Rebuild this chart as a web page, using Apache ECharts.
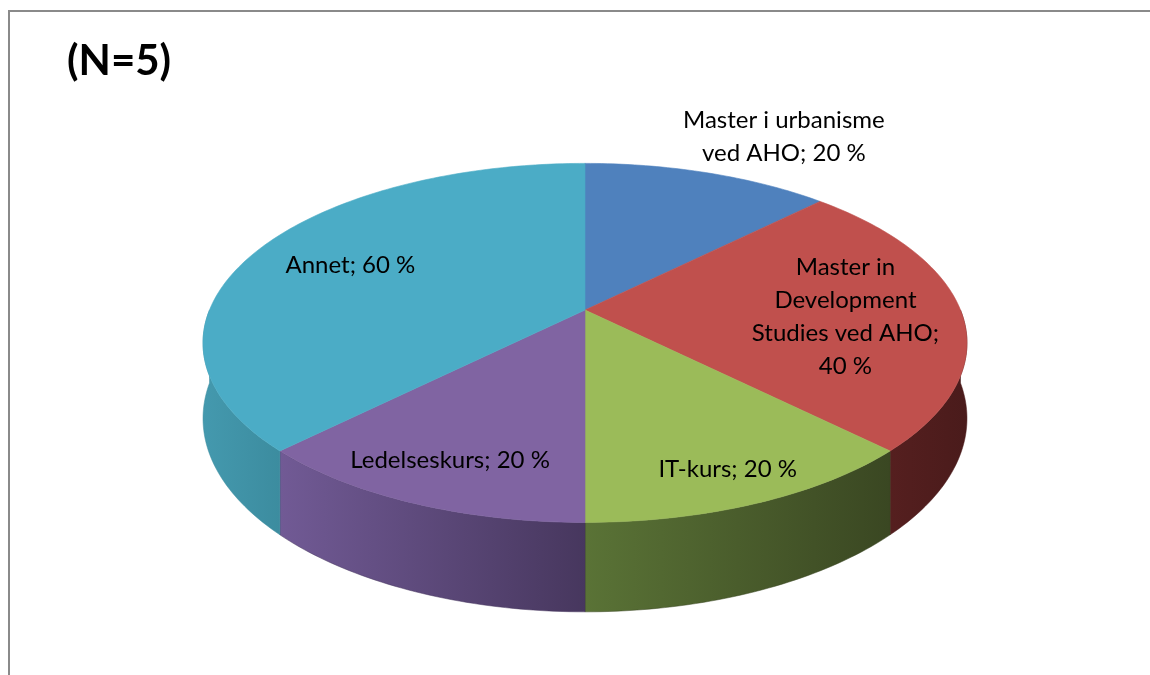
<!DOCTYPE html>
<html>
<head>
<meta charset="utf-8">
<script src="https://cdn.jsdelivr.net/npm/echarts@6/dist/echarts.min.js"></script>
<style>
html,body{margin:0;padding:0;background:#fff;}
#chart{width:1150px;height:675px;}
</style>
</head>
<body>
<div id="chart"></div>
<script>
// ---- data ----
const categories = ['Master i urbanisme\nved AHO', 'Master in\nDevelopment\nStudies ved AHO', 'IT-kurs', 'Ledelseskurs', 'Annet'];
const values = [20, 40, 20, 20, 60];
const title = '(N=5)';

// ---- style / layout ----
const topColors = ['#4F81BD', '#C0504D', '#9BBB59', '#8064A2', '#4BACC6'];
const wallColors = [['#3d6596', '#34567f'], ['#551f1f', '#4a1b1b'], ['#5a7336', '#3a4722'], ['#715a95', '#47375e'], ['#4499ae', '#3c8c9f']];
const labelRadius = [1.38, 0.69, 0.85, 0.81, 0.71];
const labelShift = [5.5, 3, 0, 0, 0];

const CX = 585, CY = 310, A = 375.5, B = 173.5, K = 0.1834, H = 73;

const total = values.reduce((s, v) => s + v, 0);
const starts = [];
let acc = 0;
values.forEach(v => { starts.push(acc / total * 360); acc += v; });

function proj(theta, r, drop) {
  const t = theta * Math.PI / 180;
  const X = r * Math.sin(t), d = r * Math.cos(t);
  const D = 1 + K * d;
  return [CX + A * X / D, CY - B * d / D + drop / D];
}
function arc(a0, a1, drop) {
  const pts = [];
  const n = Math.max(2, Math.ceil(Math.abs(a1 - a0)));
  for (let i = 0; i <= n; i++) pts.push(proj(a0 + (a1 - a0) * i / n, 1, drop));
  return pts;
}
function sliceAngles(i) {
  return [starts[i], starts[i] + values[i] / total * 360];
}
function labelText(i) {
  const lines = categories[i].split('\n');
  return lines.length >= 3 ? categories[i] + ';\n' + values[i] + ' %' : categories[i] + '; ' + values[i] + ' %';
}

const chart = echarts.init(document.getElementById('chart'), null, {renderer: 'canvas'});

const seriesData = values.map((v, i) => ({name: categories[i], value: v}));

chart.setOption({
  animation: false,
  graphic: [
    {type: 'rect', shape: {x: 9, y: 11, width: 1200, height: 700}, style: {fill: 'none', stroke: '#8a8a8a', lineWidth: 2}, z: 0},
    {type: 'text', left: 67, top: 40, style: {text: title, font: 'bold 42px Lato', fill: '#000'}, z: 10}
  ],
  series: [
    {
      type: 'custom', coordinateSystem: 'none', z: 1, data: seriesData,
      renderItem: function (params, api) {
        const i = params.dataIndex;
        const [a0, a1] = sliceAngles(i);
        const s = Math.max(a0, 90), e = Math.min(a1, 270);
        if (e <= s) return {type: 'group', children: []};
        const topArc = arc(s, e, 0);
        const botArc = arc(s, e, H).reverse();
        return {
          type: 'polygon',
          shape: {points: topArc.concat(botArc)},
          style: {
            fill: new echarts.graphic.LinearGradient(0, 0, 1, 0, [{offset: 0, color: wallColors[i][0]}, {offset: 1, color: wallColors[i][1]}]),
            stroke: wallColors[i][1], lineWidth: 0.5
          }
        };
      }
    },
    {
      type: 'custom', coordinateSystem: 'none', z: 2, data: seriesData,
      renderItem: function (params, api) {
        const i = params.dataIndex;
        const [a0, a1] = sliceAngles(i);
        const pts = [[CX, CY]].concat(arc(a0, a1, 0));
        return {
          type: 'polygon',
          shape: {points: pts},
          style: {fill: topColors[i], stroke: topColors[i], lineWidth: 0.6}
        };
      }
    },
    {
      type: 'custom', coordinateSystem: 'none', z: 3, data: seriesData,
      renderItem: function (params, api) {
        const i = params.dataIndex;
        const [a0, a1] = sliceAngles(i);
        const p = proj((a0 + a1) / 2 + labelShift[i], labelRadius[i], 0);
        return {
          type: 'text',
          x: p[0], y: p[1],
          style: {text: labelText(i), font: '24px Lato', fill: '#000', align: 'center', verticalAlign: 'middle', lineHeight: 33}
        };
      }
    }
  ]
});
</script>
</body>
</html>
